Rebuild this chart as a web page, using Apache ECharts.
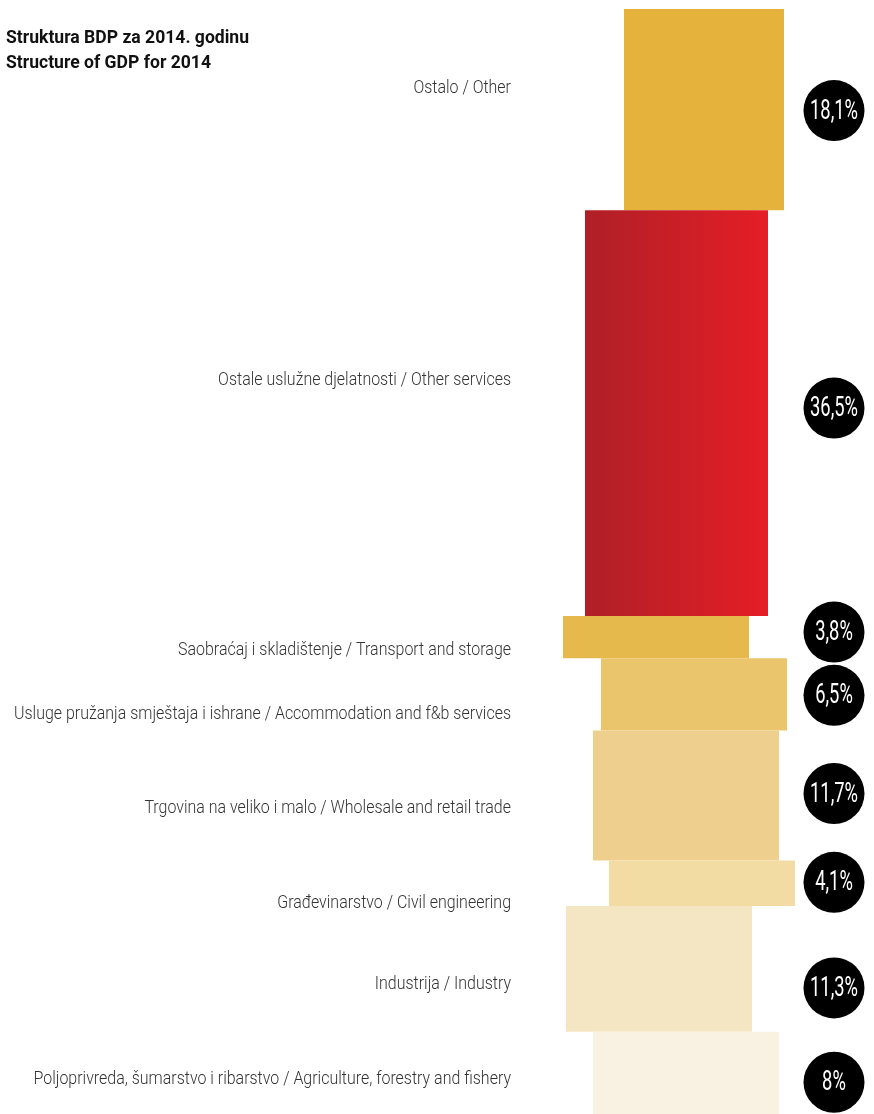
<!DOCTYPE html>
<html>
<head>
<meta charset="utf-8">
<script src="https://cdn.jsdelivr.net/npm/echarts@6/dist/echarts.min.js"></script>
<style>
html,body{margin:0;padding:0;background:#fff;}
#chart{width:874px;height:1114px;}
</style>
</head>
<body>
<div id="chart"></div>
<script>
// ---- data ----
const titleLines = ['Struktura BDP za 2014. godinu', 'Structure of GDP for 2014'];
const categories = [
  'Ostalo / Other',
  'Ostale uslužne djelatnosti / Other services',
  'Saobraćaj i skladištenje / Transport and storage',
  'Usluge pružanja smještaja i ishrane / Accommodation and f&b services',
  'Trgovina na veliko i malo / Wholesale and retail trade',
  'Građevinarstvo / Civil engineering',
  'Industrija / Industry',
  'Poljoprivreda, šumarstvo i ribarstvo / Agriculture, forestry and fishery'
];
const shares = [18.1, 36.5, 3.8, 6.5, 11.7, 4.1, 11.3, 8];
const shareLabels = ['18,1%', '36,5%', '3,8%', '6,5%', '11,7%', '4,1%', '11,3%', '8%'];

// ---- layout / styling ----
const blockLeft  = [624, 585, 563, 601, 593, 609, 566, 593];
const blockRight = [784, 768, 749, 787, 779, 795, 752, 779];
const labelDy = [-21, -33, 13, 20, 13, 20, 15, 3];
const badgeDy = [1, -5, -5, 1, -2, -1, 19, 6];
const colors = [
  '#E5B33B',
  {type:'linear', x:0, y:0, x2:1, y2:0, colorStops:[{offset:0,color:'#AF1F27'},{offset:1,color:'#E51E26'}]},
  '#E6B94C', '#EAC56B', '#EFCF8D', '#F2DCA3', '#F5E6C3', '#F9F1E1'
];
const FONT = 'Roboto, "DejaVu Sans", sans-serif';
const labelSize = 19, badgeSize = 28, titleSize = 18;

function measure(text, weight, size) {
  const c = document.createElement('canvas').getContext('2d');
  c.font = weight + ' ' + size + 'px ' + FONT;
  return c.measureText(text).width;
}
const labelScale = 497 / measure(categories[3], '300', labelSize);
const badgeScale = 48 / measure(shareLabels[0], 'normal', badgeSize);
const titleScale = 243 / measure(titleLines[0], 'bold', titleSize);

const seriesData = [];
let cum = 0;
shares.forEach((v, i) => {
  seriesData.push([cum, cum + v, i]);
  cum += v;
});

const chart = echarts.init(document.getElementById('chart'), null, {renderer: 'canvas'});
chart.setOption({
  animation: false,
  backgroundColor: '#fff',
  graphic: titleLines.map((t, k) => ({
    type: 'text',
    x: 6, y: 38 + k * 25,
    scaleX: titleScale,
    style: {text: t, align: 'left', verticalAlign: 'middle', fontFamily: FONT, fontWeight: 'bold', fontSize: titleSize, fill: '#111'}
  })),
  grid: {left: 0, right: 0, top: 9, bottom: 0},
  xAxis: {type: 'value', min: 0, max: 874, show: false},
  yAxis: {type: 'value', min: 0, max: 99.4, inverse: true, show: false},
  series: [{
    type: 'custom',
    clip: false,
    data: seriesData,
    encode: {y: [0, 1]},
    renderItem: function (params, api) {
      const i = api.value(2);
      const p0 = api.coord([blockLeft[i], api.value(0)]);
      const p1 = api.coord([blockRight[i], api.value(1)]);
      const cy = (p0[1] + p1[1]) / 2;
      const labelX = api.coord([511, 0])[0];
      const badgeX = api.coord([834, 0])[0];
      return {
        type: 'group',
        children: [
          {
            type: 'rect',
            shape: {x: p0[0], y: p0[1], width: p1[0] - p0[0], height: p1[1] - p0[1]},
            style: {fill: colors[i]}
          },
          {
            type: 'text',
            x: labelX, y: cy + labelDy[i],
            scaleX: labelScale,
            style: {
              text: categories[i], align: 'right', verticalAlign: 'middle',
              fontFamily: FONT, fontWeight: 300, fontSize: labelSize, fill: '#333'
            }
          },
          {
            type: 'circle',
            shape: {cx: badgeX, cy: cy + badgeDy[i], r: 30.5},
            style: {fill: '#000'}
          },
          {
            type: 'text',
            x: badgeX, y: cy + badgeDy[i] + 1,
            scaleX: badgeScale,
            style: {
              text: shareLabels[i], align: 'center', verticalAlign: 'middle',
              fontFamily: FONT, fontWeight: 'normal', fontSize: badgeSize, fill: '#fff'
            }
          }
        ]
      };
    }
  }]
});
</script>
</body>
</html>
